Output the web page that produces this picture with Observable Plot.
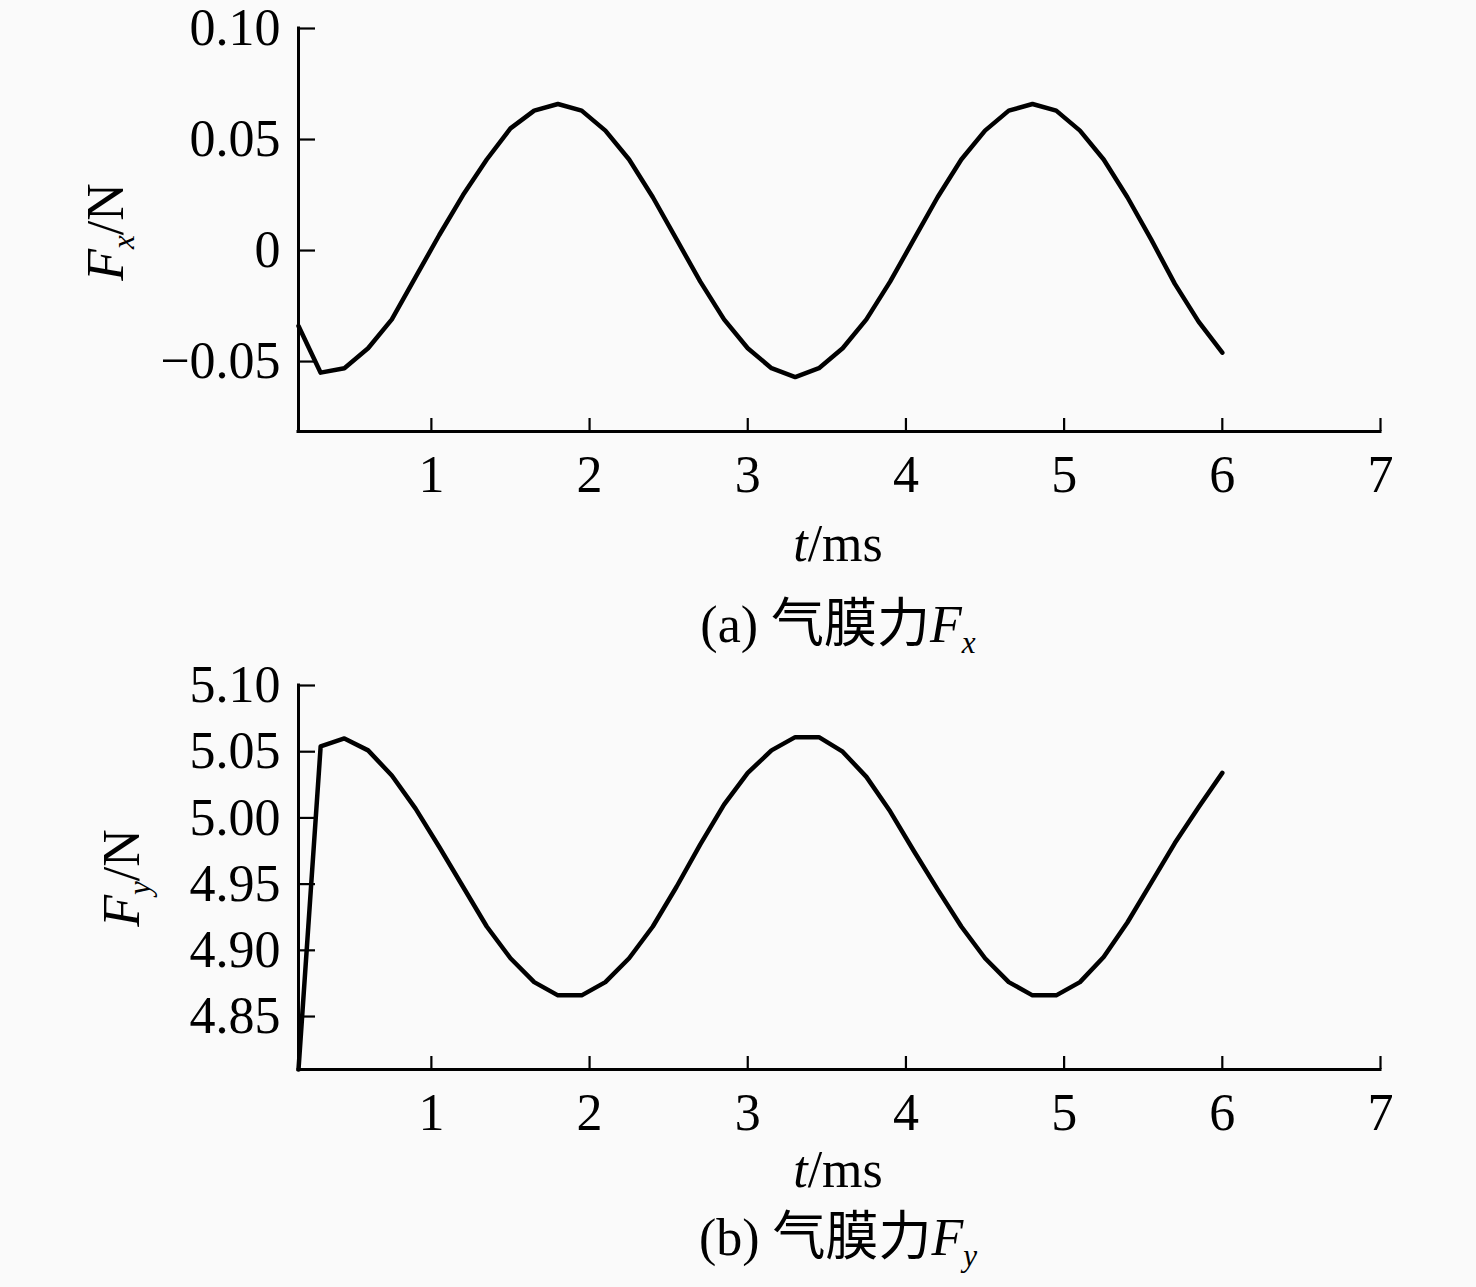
<!DOCTYPE html>
<html>
<head>
<meta charset="utf-8">
<script src="https://cdn.jsdelivr.net/npm/d3@7"></script>
<script src="https://cdn.jsdelivr.net/npm/@observablehq/plot@0.6"></script>
<style>
  html, body { margin: 0; padding: 0; background: #fafafa; }
  #root { position: relative; width: 1476px; height: 1287px; background: #fafafa; overflow: hidden; }
  .panel { position: absolute; left: 0; }
  .txt { position: absolute; left: 100px; width: 1476px; text-align: center; font-family: "Liberation Serif", "Noto Sans CJK SC", serif; font-size: 52px; line-height: 52px; color: #000; white-space: nowrap; }
  .cjk { font-family: "Noto Sans CJK SC", sans-serif; font-size: 53px; }
  .ylab { position: absolute; font-family: "Liberation Serif", serif; font-size: 52px; line-height: 52px; color: #000; white-space: nowrap; transform: translate(-50%, -50%) rotate(-90deg); }
  .sub { font-size: 0.6em; vertical-align: -0.36em; font-style: italic; }
</style>
</head>
<body>
<div id="root"></div>
<script>
// time samples (ms)
const times = [0.16,0.30,0.45,0.60,0.75,0.90,1.05,1.20,1.35,1.50,1.65,1.80,1.95,2.10,2.25,2.40,2.55,2.70,2.85,3.00,3.15,3.30,3.45,3.60,3.75,3.90,4.05,4.20,4.35,4.50,4.65,4.80,4.95,5.10,5.25,5.40,5.55,5.70,5.85,6.00];
// gas film force Fx (N)
const fxValues = [-0.034,-0.055,-0.053,-0.044,-0.031,-0.012,0.007,0.025,0.041,0.055,0.063,0.066,0.063,0.054,0.041,0.024,0.005,-0.014,-0.031,-0.044,-0.053,-0.057,-0.053,-0.044,-0.031,-0.014,0.005,0.024,0.041,0.054,0.063,0.066,0.063,0.054,0.041,0.024,0.005,-0.015,-0.032,-0.046];
// gas film force Fy (N)
const fyValues = [4.81,5.054,5.060,5.051,5.032,5.007,4.978,4.948,4.918,4.894,4.876,4.866,4.866,4.876,4.894,4.918,4.948,4.980,5.010,5.034,5.051,5.061,5.061,5.050,5.031,5.005,4.975,4.946,4.918,4.894,4.876,4.866,4.866,4.876,4.895,4.921,4.951,4.981,5.008,5.034];

const xTicks = [1,2,3,4,5,6,7];
const yTicksA = [-0.05,0,0.05,0.10];
const yTicksB = [4.85,4.90,4.95,5.00,5.05,5.10];
const xDomain = [0.16, 7];
const yDomainA = [-0.0815, 0.10];
const yDomainB = [4.81, 5.10];

const fmtA = d => d === 0 ? "0" : (d < 0 ? "\u2212" : "") + Math.abs(d).toFixed(2);
const fmtB = d => d.toFixed(2);

const dataA = times.map((t, i) => ({t, v: fxValues[i]}));
const dataB = times.map((t, i) => ({t, v: fyValues[i]}));

function panel(data, yDomain, yTicks, fmt, opts) {
  return Plot.plot({
    width: 1476,
    height: opts.height,
    marginLeft: 298,
    marginRight: 96,
    marginTop: opts.marginTop,
    marginBottom: opts.marginBottom,
    style: {background: "transparent", fontFamily: "'Liberation Serif', serif", fontSize: "52px", color: "#000", overflow: "visible"},
    x: {domain: xDomain, label: null},
    y: {domain: yDomain, label: null},
    marks: [
      Plot.axisX(xTicks, {tickSize: -13, tickPadding: 37, strokeWidth: 2.2, fontSize: 52, tickFormat: d => String(d), label: null}),
      Plot.axisY(yTicks, {tickSize: -17, tickPadding: 35, strokeWidth: 2.2, fontSize: 52, tickFormat: fmt, label: null}),
      Plot.ruleX([xDomain[0]], {strokeWidth: 3, strokeLinecap: "square"}),
      Plot.ruleY([yDomain[0]], {strokeWidth: 3, strokeLinecap: "square"}),
      Plot.line(data, {x: "t", y: "v", stroke: "#000", strokeWidth: 4.5, strokeLinejoin: "round", strokeLinecap: "round"})
    ]
  });
}

const root = document.getElementById("root");

const svgA = panel(dataA, yDomainA, yTicksA, fmtA, {height: 520, marginTop: 28, marginBottom: 89});
svgA.classList.add("panel");
svgA.style.top = "0px";
root.appendChild(svgA);

const svgB = panel(dataB, yDomainB, yTicksB, fmtB, {height: 500, marginTop: 45, marginBottom: 71});
svgB.classList.add("panel");
svgB.style.top = "640px";
root.appendChild(svgB);

function addText(html, cls, top, left) {
  const d = document.createElement("div");
  d.className = cls;
  d.innerHTML = html;
  d.style.top = top + "px";
  if (left !== undefined) d.style.left = left + "px";
  root.appendChild(d);
  return d;
}

// axis titles and captions
addText('<i>t</i>/ms', "txt", 518);
addText('(a) <span class="cjk">气膜力</span><i>F</i><span class="sub">x</span>', "txt", 593);
addText('<i>t</i>/ms', "txt", 1144);
addText('(b) <span class="cjk">气膜力</span><i>F</i><span class="sub">y</span>', "txt", 1206);

addText('<i>F</i><span class="sub">x</span>/N', "ylab", 232, 115);
addText('<i>F</i><span class="sub">y</span>/N', "ylab", 878, 131);
</script>
</body>
</html>
